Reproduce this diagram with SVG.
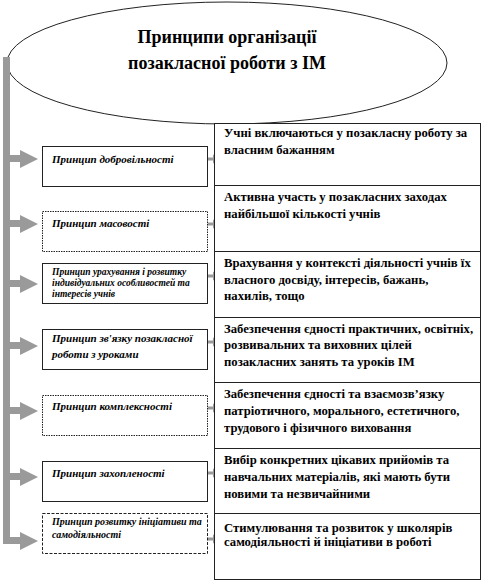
<svg xmlns="http://www.w3.org/2000/svg" width="487" height="582" viewBox="0 0 487 582">
<defs>
<style>
.title{font-family:"Liberation Serif","DejaVu Serif",serif;font-weight:bold;font-size:18px;fill:#000;text-anchor:middle}
.lt{font-family:"Liberation Serif","DejaVu Serif",serif;font-weight:bold;font-style:italic;font-size:11px;fill:#000}
.lt.s{font-size:9.5px}
.lt.m{font-size:10px}
.rt{font-family:"Liberation Serif","DejaVu Serif",serif;font-weight:bold;font-size:12.7px;fill:#000}
.lbox{fill:#fff;stroke:#222;stroke-width:1}
.rbox{fill:#fff;stroke:#222;stroke-width:1}
.bar{fill:#9a9a9a}
.sm{fill:#9a9a9a}
</style>
</defs>
<rect width="487" height="582" fill="#fff"/>
<g id="title">
<ellipse cx="227" cy="63" rx="220" ry="61" fill="#fff" stroke="#222" stroke-width="1"/>
<text class="title" x="227" y="43">Принципи організації</text>
<text class="title" x="227" y="69">позакласної роботи з ІМ</text>
</g>
<g id="connectors">
<path class="bar" d="M3,57 H10 V537 H20 V532 L38,541 L20,550 V544 H3 Z"/>
<path class="bar" d="M10,155 H20 V150 L38,159 L20,168 V162 H10 Z"/>
<path class="bar" d="M10,220 H20 V215 L38,224 L20,233 V227 H10 Z"/>
<path class="bar" d="M10,280 H20 V275 L38,284 L20,293 V287 H10 Z"/>
<path class="bar" d="M10,342 H20 V337 L38,346 L20,355 V349 H10 Z"/>
<path class="bar" d="M10,407 H20 V402 L38,411 L20,420 V414 H10 Z"/>
<path class="bar" d="M10,473 H20 V468 L38,477 L20,486 V480 H10 Z"/>
<path class="sm" d="M207,157.5 H213 V154.5 L222,159 L213,163.5 V160.5 H207 Z"/>
<path class="sm" d="M207,222.5 H213 V219.5 L222,224 L213,228.5 V225.5 H207 Z"/>
<path class="sm" d="M207,274.5 H213 V271.5 L222,276 L213,280.5 V277.5 H207 Z"/>
<path class="sm" d="M207,340.5 H213 V337.5 L222,342 L213,346.5 V343.5 H207 Z"/>
<path class="sm" d="M207,406.5 H213 V403.5 L222,408 L213,412.5 V409.5 H207 Z"/>
<path class="sm" d="M207,471.5 H213 V468.5 L222,473 L213,477.5 V474.5 H207 Z"/>
<path class="sm" d="M207,537.5 H213 V534.5 L222,539 L213,543.5 V540.5 H207 Z"/>
</g>
<g id="p1">
<rect class="lbox" x="42.5" y="146.5" width="165" height="40"/>
<text class="lt" x="52" y="163">Принцип добровільності</text>
</g>
<g id="p2">
<rect class="lbox" x="42.5" y="211.5" width="165" height="40" stroke-dasharray="1.5 1"/>
<text class="lt" x="52" y="227">Принцип масовості</text>
</g>
<g id="p3">
<rect class="lbox" x="42.5" y="263.5" width="165" height="40"/>
<text class="lt s" x="52" y="275">Принцип урахування і розвитку</text>
<text class="lt s" x="52" y="286">індивідуальних особливостей та</text>
<text class="lt s" x="52" y="297">інтересів учнів</text>
</g>
<g id="p4">
<rect class="lbox" x="42.5" y="329.5" width="165" height="40"/>
<text class="lt" x="52" y="342">Принцип зв'язку позакласної</text>
<text class="lt" x="52" y="358">роботи з уроками</text>
</g>
<g id="p5">
<rect class="lbox" x="42.5" y="395.5" width="165" height="40" stroke-dasharray="1.5 1"/>
<text class="lt" x="52" y="410">Принцип комплексності</text>
</g>
<g id="p6">
<rect class="lbox" x="42.5" y="461.5" width="165" height="40"/>
<text class="lt" x="52" y="477">Принцип захопленості</text>
</g>
<g id="p7">
<rect class="lbox" x="42.5" y="513.5" width="165" height="40" stroke-dasharray="3 1.5"/>
<text class="lt m" x="52" y="525">Принцип розвитку ініціативи та</text>
<text class="lt m" x="52" y="538">самодіяльності</text>
</g>
<g id="d1">
<rect class="rbox" x="214.5" y="123.5" width="266" height="62"/>
<text class="rt" x="224" y="137">Учні включаються у позакласну роботу за</text>
<text class="rt" x="224" y="154">власним бажанням</text>
</g>
<g id="d2">
<rect class="rbox" x="214.5" y="185.5" width="266" height="66"/>
<text class="rt" x="224" y="201">Активна участь у позакласних заходах</text>
<text class="rt" x="224" y="218">найбільшої кількості учнів</text>
</g>
<g id="d3">
<rect class="rbox" x="214.5" y="251.5" width="266" height="66"/>
<text class="rt" x="224" y="267">Врахування у контексті діяльності учнів їх</text>
<text class="rt" x="224" y="284">власного досвіду, інтересів, бажань,</text>
<text class="rt" x="224" y="300">нахилів, тощо</text>
</g>
<g id="d4">
<rect class="rbox" x="214.5" y="317.5" width="266" height="65"/>
<text class="rt" x="224" y="333">Забезпечення єдності практичних, освітніх,</text>
<text class="rt" x="224" y="349">розвивальних та виховних цілей</text>
<text class="rt" x="224" y="366">позакласних занять та уроків ІМ</text>
</g>
<g id="d5">
<rect class="rbox" x="214.5" y="382.5" width="266" height="66"/>
<text class="rt" x="224" y="398">Забезпечення єдності та взаємозв’язку</text>
<text class="rt" x="224" y="415">патріотичного, морального, естетичного,</text>
<text class="rt" x="224" y="432">трудового і фізичного виховання</text>
</g>
<g id="d6">
<rect class="rbox" x="214.5" y="448.5" width="266" height="65"/>
<text class="rt" x="224" y="464">Вибір конкретних цікавих прийомів та</text>
<text class="rt" x="224" y="481">навчальних матеріалів, які мають бути</text>
<text class="rt" x="224" y="498">новими та незвичайними</text>
</g>
<g id="d7">
<rect class="rbox" x="214.5" y="513.5" width="266" height="66"/>
<text class="rt" x="224" y="532">Стимулювання та розвиток у школярів</text>
<text class="rt" x="224" y="546">самодіяльності й ініціативи в роботі</text>
</g>
</svg>
